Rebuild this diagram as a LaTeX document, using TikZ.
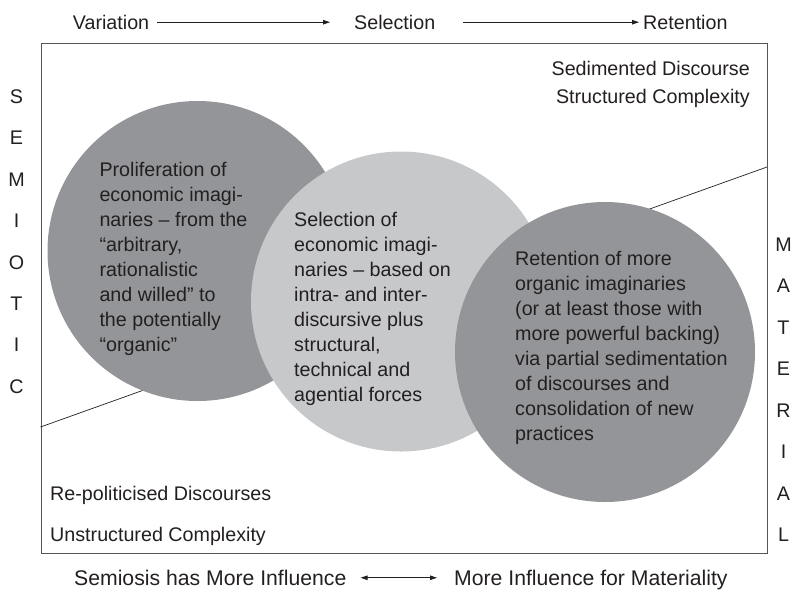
\documentclass[tikz,border=0pt]{standalone}
\usepackage{fontspec}
\setmainfont{Liberation Sans}
\usetikzlibrary{arrows.meta}
\definecolor{ink}{RGB}{35,31,32}
\definecolor{darkdisc}{RGB}{147,149,152}
\definecolor{lightdisc}{RGB}{199,200,202}
\definecolor{framegray}{RGB}{85,85,85}
\begin{document}
\begin{tikzpicture}[x=1pt,y=-1pt,
  every node/.style={inner sep=0pt, text=ink},
  lab/.style={font=\fontsize{19.7}{24}\selectfont, text height=14.6pt, text depth=0pt},
  biglab/.style={font=\fontsize{21.2}{26}\selectfont, text height=15.5pt, text depth=0pt},
  letter/.style={font=\fontsize{19.7}{24}\selectfont, anchor=base},
  disc/.style={circle, minimum size=300pt, draw=none},
  disctext/.style={font=\fontsize{19.7}{25}\selectfont, align=left, anchor=north west},
  arr/.style={draw=ink, line width=0.9pt, -{Triangle[length=7pt,width=4.5pt]}},
  twoarr/.style={draw=ink, line width=0.9pt, {Triangle[length=7pt,width=4.5pt]}-{Triangle[length=7pt,width=4.5pt]}},
]
\useasboundingbox (0,0) rectangle (791,590);

% evolutionary stages along the top
\node[lab, anchor=base west] (var) at (72.7,29.5) {Variation};
\node[lab, anchor=base west] (sel) at (354,29.5) {Selection};
\node[lab, anchor=base west] (ret) at (643,29.5) {Retention};
\draw[arr, shorten <=8pt, shorten >=24pt] (var.east) -- (sel.west);
\draw[arr, shorten <=28pt, shorten >=4pt] (sel.east) -- (ret.west);

% outer frame
\node[draw=framegray, line width=1pt, minimum width=726.5pt, minimum height=509.7pt,
      anchor=north west] (frame) at (40.5,43.3) {};

% dividing line between semiotic and material fields
\coordinate (divl) at (40.5,427);
\coordinate (divr) at (767,167);
\draw[ink, line width=0.7pt] (divl) -- (divr);

% the three moments
\node[disc, fill=darkdisc] (c1) at (197.5,251) {};
\node[disc, fill=lightdisc] (c2) at (401,301.5) {};
\node[disc, fill=darkdisc] (c3) at (605,352) {};

\node[disctext] (t1) at (99.3,161.7) {Proliferation of\\economic imagi-\\naries – from the\\“arbitrary,\\rationalistic\\and willed” to\\the potentially\\“organic”};
\node[disctext] (t2) at (294,211.7) {Selection of\\economic imagi-\\naries – based on\\intra- and inter-\\discursive plus\\structural,\\technical and\\agential forces};
\node[disctext] (t3) at (515,250.7) {Retention of more\\organic imaginaries\\(or at least those with\\more powerful backing)\\via partial sedimentation\\of discourses and\\consolidation of new\\practices};

% corner labels
\node[lab, anchor=base east] (sed) at (750,75) {Sedimented Discourse};
\node[lab, anchor=base east] (struc) at (750,103) {Structured Complexity};
\node[lab, anchor=base west] (repol) at (50,500.7) {Re-politicised Discourses};
\node[lab, anchor=base west] (unstr) at (50,541.7) {Unstructured Complexity};

% vertical side words
\foreach \ch [count=\i from 0] in {S,E,M,I,O,T,I,C}
  \node[letter] (sem\i) at (16.5,103.5+41.4*\i) {\ch};
\foreach \ch [count=\i from 0] in {M,A,T,E,R,I,A,L}
  \node[letter] (mat\i) at (783.5,251.2+41.5*\i) {\ch};

% influence scale along the bottom
\node[biglab, anchor=base west] (semi) at (74,585.5) {Semiosis has More Influence};
\node[biglab, anchor=base west] (matl) at (454,585.5) {More Influence for Materiality};
\draw[twoarr, shorten <=14pt, shorten >=17pt] (semi.east) -- (matl.west);
\end{tikzpicture}
\end{document}
